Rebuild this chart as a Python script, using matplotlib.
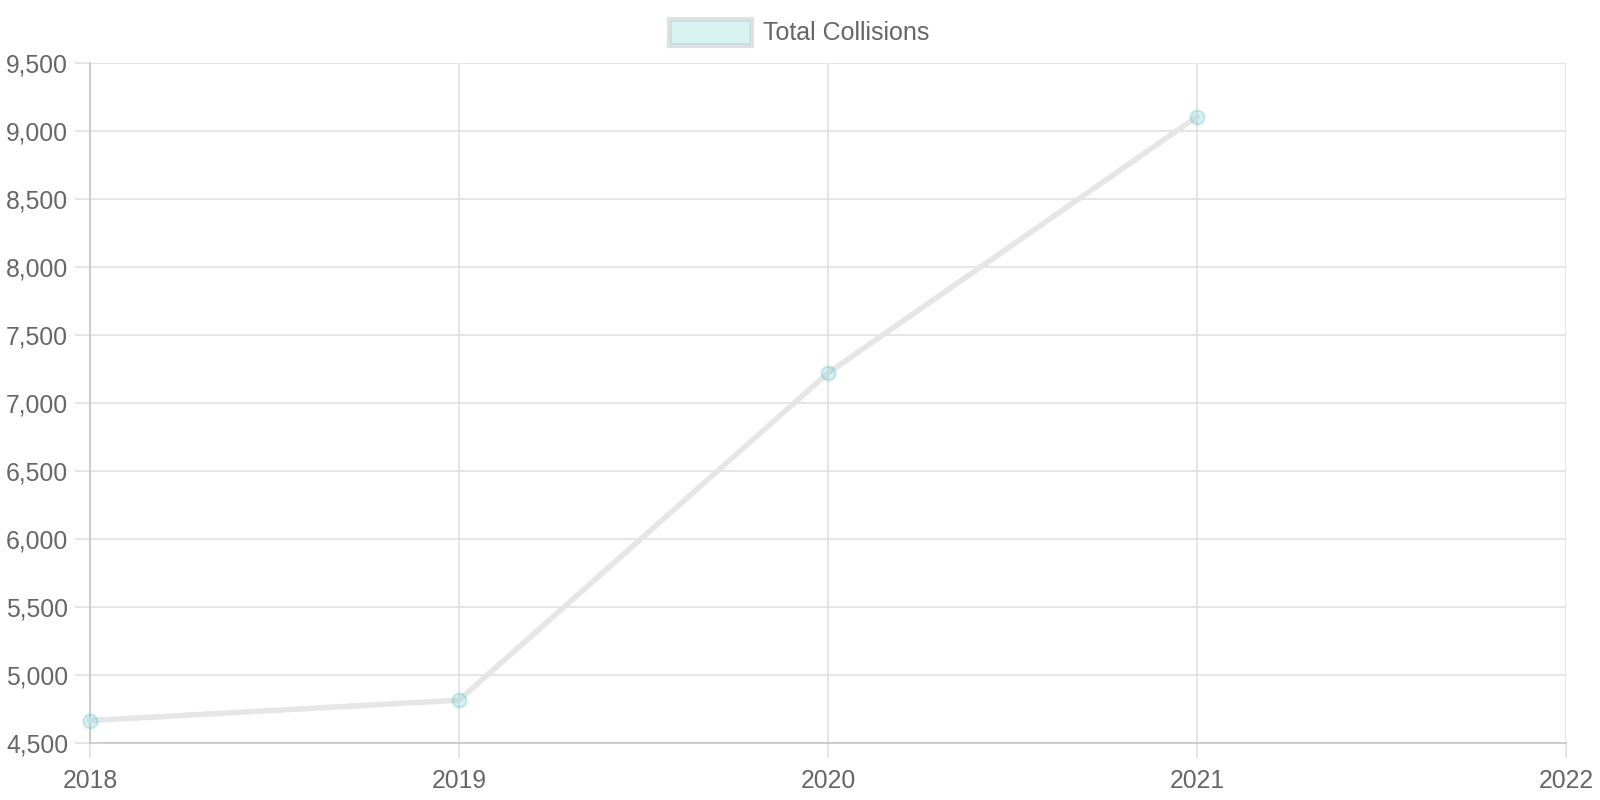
import matplotlib
matplotlib.use('Agg')
import matplotlib.pyplot as plt
from matplotlib.patches import Rectangle
from matplotlib.ticker import FuncFormatter, MultipleLocator

years = [2018, 2019, 2020, 2021]
collisions = [4665, 4815, 7220, 9105]
series_name = 'Total Collisions'

plt.rcParams['font.family'] = ['Liberation Sans', 'DejaVu Sans']

fig = plt.figure(figsize=(16, 8), dpi=100)
ax = fig.add_axes([90 / 1600, 1 - 743 / 800, 1476 / 1600, 680 / 800])

ax.plot(years, collisions, color='#e6e6e6', linewidth=4, zorder=3, clip_on=False,
        marker='o', markersize=10, markerfacecolor=(75/255, 192/255, 192/255, 0.2),
        markeredgecolor=(75/255, 192/255, 192/255, 0.3), markeredgewidth=1.5)

ax.set_xlim(2018, 2022)
ax.set_ylim(4500, 9500)
ax.xaxis.set_major_locator(MultipleLocator(1))
ax.yaxis.set_major_locator(MultipleLocator(500))
ax.yaxis.set_major_formatter(FuncFormatter(lambda v, p: f'{int(v):,}'))
ax.xaxis.set_major_formatter(FuncFormatter(lambda v, p: f'{int(v)}'))

ax.grid(True, color='#e0e0e0', linewidth=1.2, zorder=0)
ax.tick_params(axis='both', colors='#e0e0e0', labelcolor='#666666',
               labelsize=17.8, length=10.8, width=1.2)
ax.tick_params(axis='y', pad=5)
ax.tick_params(axis='x', pad=8)
for s in ['top', 'right']:
    ax.spines[s].set_visible(False)
for s in ['left', 'bottom']:
    ax.spines[s].set_color('#c6c6c6')
    ax.spines[s].set_linewidth(1.2)

# legend drawn like the chart.js box
fig.patches.append(Rectangle((669 / 1600, 1 - 46 / 800), 83 / 1600, 27 / 800,
                             transform=fig.transFigure, facecolor='#d9f2f2',
                             edgecolor='#e0e0e0', linewidth=3))
fig.patches.append(Rectangle((671 / 1600, 1 - 44 / 800), 79 / 1600, 23 / 800,
                             transform=fig.transFigure, facecolor='none',
                             edgecolor='#c5dede', linewidth=1.2))
fig.text(763 / 1600, 1 - 33 / 800, series_name, color='#666666', fontsize=18,
         ha='left', va='center')

fig.savefig('out.png', dpi=100)
